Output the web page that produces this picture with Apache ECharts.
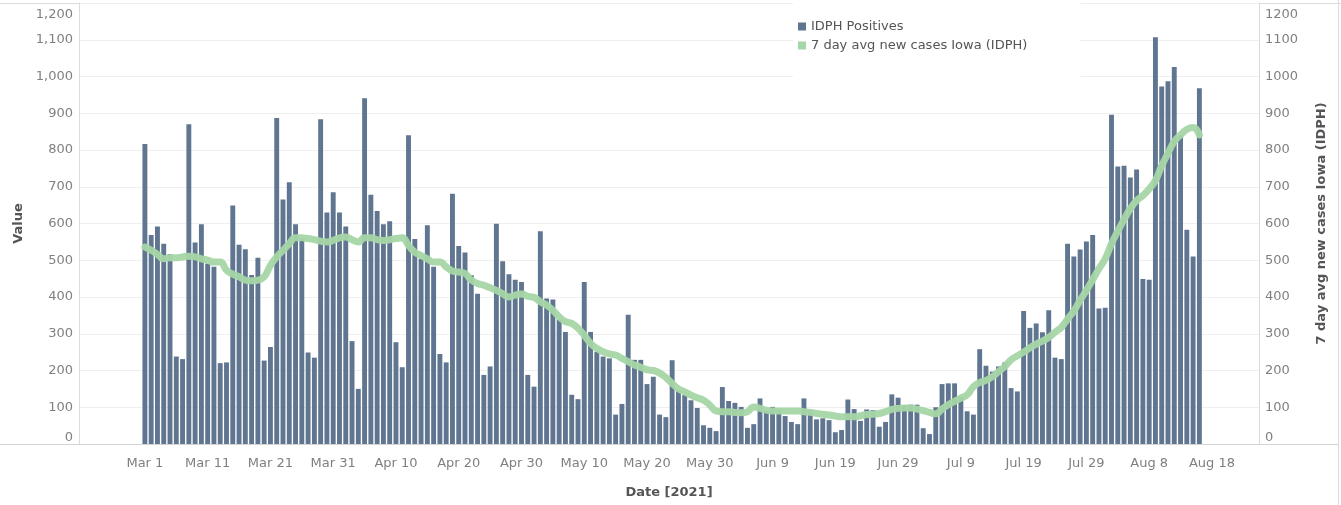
<!DOCTYPE html>
<html>
	<head>
		<meta charset="utf-8">
		<title>IDPH Positives</title>
		<script src="https://cdn.jsdelivr.net/npm/echarts/dist/echarts.min.js"></script>
		<style>
			html, body { margin: 0; padding: 0; background: #fff; }
		</style>
	</head>
	<body>
		<div id="main" style="width: 1341px; height: 505px;"></div>
		<script type="text/javascript">
			// daily values, Mar 1 .. Aug 16 2021
			var positives = [
				816, 569, 592, 545, 516, 238, 231, 870, 548, 598, 491, 482, 220, 222, 649, 542, 530, 460, 507, 227, 264,
				887, 665, 712, 598, 560, 249, 235, 884, 630, 685,
				630, 592, 280, 150, 941, 678, 634, 598, 606, 277, 209, 840, 558, 504, 595, 482, 245, 222, 681, 539, 521,
				459, 409, 188, 211, 599, 497, 462, 447, 441,
				188, 156, 579, 396, 393, 339, 305, 134, 122, 441, 305, 251, 238, 233, 80, 109, 352, 229, 229, 163, 183,
				80, 73, 228, 145, 133, 119, 98, 51, 44, 35,
				155, 117, 112, 101, 44, 54, 124, 90, 101, 95, 76, 60, 54, 124, 92, 67, 70, 65, 32, 38, 121,
				95, 63, 94, 92, 47, 60, 135, 126, 105,
				107, 107, 43, 27, 100, 163, 165, 165, 128, 89, 80, 258, 213, 197, 211, 222, 152, 143, 362, 316, 328,
				304, 364, 235, 231, 545, 510, 529, 551, 569, 369,
				371, 896, 755, 757, 725, 747, 449, 447, 1107, 973, 987, 1026, 840, 583, 510, 968
			];
			var avg7 = [
				536, 527, 516, 504, 507, 507, 509, 511, 509, 504, 500, 495, 495, 473, 462, 455, 446, 444, 446, 455, 486,
				509, 527, 545, 561, 561, 559, 556, 552, 550, 554,
				561, 563, 556, 550, 561, 561, 556, 554, 556, 559, 561, 540, 522, 513, 504, 495, 495, 482, 471, 468, 464,
				446, 437, 432, 425, 418, 409, 400, 405, 408,
				402, 399, 387, 378, 364, 346, 333, 328, 315, 296, 274, 260, 251, 245, 242, 233, 224, 215, 209, 202, 200,
				193, 181, 165, 150, 142, 133, 126, 119, 106, 90,
				88, 88, 86, 85, 88, 101, 97, 92, 90, 90, 90, 90, 90, 88, 86, 83, 81, 79, 76, 74, 74,
				74, 77, 80, 81, 83, 88, 94, 97, 98,
				98, 95, 91, 86, 82, 95, 107, 116, 125, 134, 156, 167, 173, 183, 197, 211, 229, 240, 250, 262, 272,
				280, 290, 304, 317, 340, 362, 391, 418, 447, 477,
				504, 545, 579, 611, 640, 662, 676, 694, 717, 757, 791, 823, 841, 856, 861, 841
			];
			var yTicks = [0, 100, 200, 300, 400, 500, 600, 700, 800, 900, 1000, 1100, 1200];

			// axis runs Feb 19 .. Aug 25, labels every 10 days from Mar 1
			var monthNames = ['Jan', 'Feb', 'Mar', 'Apr', 'May', 'Jun', 'Jul', 'Aug', 'Sep'];
			var lead = 10;
			var totalDays = 188;
			var days = [];
			for (var i = 0; i < totalDays; i++) {
				var d = new Date(2021, 1, 19 + i);
				days.push(monthNames[d.getMonth()] + ' ' + d.getDate());
			}
			var pad = [];
			for (var j = 0; j < lead; j++) pad.push('-');
			var barData = pad.concat(positives);
			var lineData = pad.concat(avg7);
			var yMax = yTicks[yTicks.length - 1];

			var labelFont = 'DejaVu Sans';
			var myChart = echarts.init(document.getElementById('main'));
			var option = {
				animation: false,
				backgroundColor: '#fff',
				textStyle: { fontFamily: labelFont },
				grid: { left: 79, right: 82, top: 3, bottom: 61 },
				legend: {
					orient: 'vertical',
					left: 793,
					top: 3,
					padding: [17, 53, 34, 5],
					backgroundColor: '#fff',
					itemWidth: 8,
					itemHeight: 8,
					itemGap: 6,
					itemStyle: { borderWidth: 0 },
					textStyle: { color: '#555', fontSize: 13, fontFamily: labelFont },
					data: [
						{ name: 'IDPH Positives', icon: 'rect' },
						{
							name: '7 day avg new cases Iowa (IDPH)',
							icon: 'rect',
							itemStyle: { color: '#a5d6a6', borderWidth: 0 },
							lineStyle: { width: 0.01, opacity: 0 }
						}
					]
				},
				xAxis: {
					type: 'category',
					data: days,
					boundaryGap: true,
					name: 'Date [2021]',
					nameLocation: 'middle',
					nameGap: 42,
					nameTextStyle: { color: '#555', fontSize: 13, fontWeight: 'bold' },
					axisLine: { lineStyle: { color: '#d4d4d4' } },
					axisTick: { show: false },
					axisLabel: {
						color: '#808080',
						fontSize: 13,
						margin: 13,
						interval: function (index) {
							return index >= lead && index <= lead + 170 && (index - lead) % 10 === 0;
						}
					},
					splitLine: { show: false }
				},
				yAxis: [
					{
						type: 'value',
						min: yTicks[0],
						max: yMax,
						interval: 100,
						name: 'Value',
						nameLocation: 'middle',
						nameGap: 53,
						nameRotate: 90,
						nameTextStyle: { color: '#555', fontSize: 13, fontWeight: 'bold' },
						axisLine: { show: true, lineStyle: { color: '#dcdcdc' } },
						axisTick: { show: false },
						axisLabel: {
							color: '#808080',
							fontSize: 13,
							margin: 6,
							verticalAlignMinLabel: 'bottom',
							verticalAlignMaxLabel: 'top',
							formatter: function (v) {
								var s = v.toLocaleString('en-US');
								return v === yMax ? '{mx|' + s + '}' : s;
							},
							rich: { mx: { color: '#808080', fontSize: 13, padding: [5, 0, 0, 0] } }
						},
						splitLine: { lineStyle: { color: '#efefef' } }
					},
					{
						type: 'value',
						min: yTicks[0],
						max: yMax,
						interval: 100,
						position: 'right',
						name: '7 day avg new cases Iowa (IDPH)',
						nameLocation: 'middle',
						nameGap: 56,
						nameRotate: 90,
						nameTextStyle: { color: '#555', fontSize: 13, fontWeight: 'bold' },
						axisLine: { show: true, lineStyle: { color: '#dcdcdc' } },
						axisTick: { show: false },
						axisLabel: {
							color: '#808080',
							fontSize: 13,
							margin: 6,
							verticalAlignMinLabel: 'bottom',
							verticalAlignMaxLabel: 'top',
							formatter: function (v) {
								return v === yMax ? '{mx|' + v + '}' : String(v);
							},
							rich: { mx: { color: '#808080', fontSize: 13, padding: [5, 0, 0, 0] } }
						},
						splitLine: { show: false }
					}
				],
				graphic: [
					{ type: 'line', shape: { x1: 0, y1: 3.5, x2: 1341, y2: 3.5 }, style: { stroke: '#dcdcdc', lineWidth: 1 } },
					{ type: 'line', shape: { x1: 0, y1: 444.5, x2: 1338, y2: 444.5 }, style: { stroke: '#d4d4d4', lineWidth: 1 } },
					{ type: 'line', shape: { x1: 1338.5, y1: 0, x2: 1338.5, y2: 505 }, style: { stroke: '#dcdcdc', lineWidth: 1 } }
				],
				series: [
					{
						name: 'IDPH Positives',
						type: 'bar',
						data: barData,
						yAxisIndex: 0,
						barCategoryGap: '22%',
						itemStyle: { color: '#5f7590' }
					},
					{
						name: '7 day avg new cases Iowa (IDPH)',
						type: 'line',
						data: lineData,
						yAxisIndex: 1,
						smooth: true,
						showSymbol: false,
						symbol: 'none',
						itemStyle: { color: '#a5d6a6' },
						lineStyle: { color: '#a5d6a6', width: 7, opacity: 0.95, cap: 'round', join: 'round' }
					}
				]
			};
			myChart.setOption(option);
		</script>
	</body>
</html>
